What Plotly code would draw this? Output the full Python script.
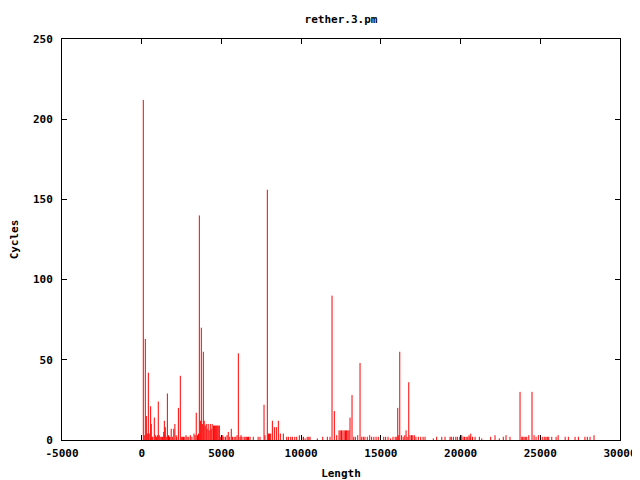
import plotly.graph_objects as go

title_text = "rether.3.pm"
x_label = "Length"
y_label = "Cycles"

x_tick_vals = [-5000, 0, 5000, 10000, 15000, 20000, 25000, 30000]
x_tick_text = ["-5000", "0", "5000", "10000", "15000", "20000", "25000", "30000"]
y_tick_vals = [0, 50, 100, 150, 200, 250]
y_tick_text = ["0", "50", "100", "150", "200", "250"]

lengths = [
    100, 160, 226, 290, 350, 415, 470, 560, 600, 650, 700, 790, 855, 920, 980, 1040, 1100, 1160,
    1230, 1300, 1380, 1420, 1480, 1540, 1610, 1680, 1740, 1780, 1850, 1920, 2010, 2080, 2160, 2200,
    2300, 2420, 2480, 2550, 2620, 2700, 2780, 2850, 2950, 3050, 3150, 3280, 3350, 3420, 3500, 3560,
    3615, 3680, 3740, 3800, 3865, 3920, 3980, 4050, 4100, 4170, 4230, 4300, 4360, 4420, 4500, 4560,
    4620, 4680, 4740, 4800, 4870, 4930, 5000, 5080, 5150, 5250, 5350, 5430, 5520, 5620, 5700, 5800,
    5900, 5980, 6060, 6166, 6230, 6290, 6420, 6480, 6560, 6640, 6700, 6794, 7000, 7300, 7420, 7672,
    7730, 7880, 7950, 8020, 8090, 8195, 8320, 8445, 8570, 8695, 8883, 9096, 9200, 9346, 9450, 9600,
    9722, 9888, 10040, 10150, 10250, 10380, 10480, 10560, 11016, 11354, 11643, 11812, 11937, 12082,
    12230, 12377, 12450, 12530, 12620, 12700, 12780, 12850, 12930, 13000, 13066, 13192, 13300, 13400,
    13550, 13694, 13800, 13900, 14000, 14150, 14300, 14420, 14560, 14700, 14840, 15180, 15300, 15450,
    15600, 15760, 15900, 16000, 16059, 16120, 16185, 16300, 16400, 16500, 16580, 16650, 16750, 16830,
    16920, 17000, 17100, 17200, 17350, 17500, 17650, 17770, 18290, 18500, 18820, 19025, 19340, 19420,
    19550, 19700, 19800, 19950, 20073, 20160, 20250, 20350, 20450, 20530, 20600, 20640, 20750, 20910,
    21180, 21330, 21890, 22160, 22430, 22680, 22850, 23100, 23730, 23840, 23900, 23980, 24060, 24150,
    24280, 24480, 24610, 24735, 24880, 25030, 25155, 25280, 25360, 25440, 25530, 25720, 25990, 26120,
    26560, 26760, 27180, 27390, 27800, 27950, 28120, 28370,
]
cycles = [
    212, 3, 63, 15, 4, 42, 4, 21, 10, 2, 2, 14, 3, 2, 3, 24, 3, 2,
    2, 2, 5, 12, 8, 2, 29, 3, 2, 2, 7, 2, 7, 10, 3, 2,
    20, 40, 2, 2, 2, 2, 3, 2, 2, 3, 2, 4, 3, 17, 3, 4,
    140, 12, 70, 10, 55, 12, 9, 10, 7, 10, 6, 10, 7, 10, 9, 9,
    9, 9, 9, 9, 9, 2, 2, 3, 2, 2, 3, 5, 2, 7, 2, 2,
    2, 3, 54, 2, 3, 2, 2, 2, 2, 2, 2, 2, 2, 2, 2, 22,
    3, 156, 4, 4, 4, 12, 8, 8, 12, 4, 4, 2, 2, 2, 2, 2,
    2, 3, 2, 2, 1, 2, 2, 2, 1, 2, 2, 2, 90, 18,
    3, 6, 6, 6, 6, 6, 6, 6, 6, 6, 14, 28, 2, 2,
    3, 48, 2, 2, 2, 2, 3, 2, 2, 2, 2, 2, 2, 2,
    1, 2, 2, 2, 20, 3, 55, 3, 2, 3, 6, 2, 36, 3,
    3, 3, 3, 2, 2, 2, 2, 2, 1, 2, 2, 2, 2, 2,
    2, 2, 2, 2, 3, 2, 2, 2, 2, 3, 2, 4, 2, 2,
    2, 1, 2, 3, 1, 2, 3, 2, 30, 2, 2, 2, 2, 2,
    3, 30, 3, 2, 3, 2, 2, 2, 2, 2, 2, 2, 2, 3,
    2, 2, 2, 2, 2, 2, 2, 3,
]

xs, ys = [], []
for L, c in zip(lengths, cycles):
    xs += [L, L, None]
    ys += [0, c, None]

fig = go.Figure(go.Scatter(x=xs, y=ys, mode="lines",
                           line=dict(color="#ff0000", width=1),
                           hoverinfo="skip", showlegend=False))

font_main = dict(family="DejaVu Sans Mono", size=11, color="black", weight="bold")

axis_common = dict(showline=True, linecolor="black", linewidth=1, mirror="allticks",
                   ticks="inside", ticklen=5, tickcolor="black", showgrid=False,
                   zeroline=False, tickfont=font_main, automargin=False)

# page body has an 8px offset, so the figure is 632x472 with margins reduced accordingly
fig.update_layout(
    width=632, height=472,
    margin=dict(l=54, r=20, t=31, b=40, autoexpand=False),
    paper_bgcolor="white", plot_bgcolor="white",
    title=dict(text=title_text, x=0.5, xref="paper", y=1 - 11 / 472, yref="container",
               yanchor="middle", font=font_main, automargin=False),
    xaxis=dict(range=[-5000, 30000], tickvals=x_tick_vals, ticktext=x_tick_text,
               ticklabelstandoff=3,
               title=dict(text=x_label, font=font_main, standoff=10), **axis_common),
    yaxis=dict(range=[0, 250], tickvals=y_tick_vals, ticktext=y_tick_text,
               ticklabelstandoff=6,
               title=dict(text=y_label, font=font_main, standoff=17), **axis_common),
    font=font_main,
)

fig.write_html("out.html")
